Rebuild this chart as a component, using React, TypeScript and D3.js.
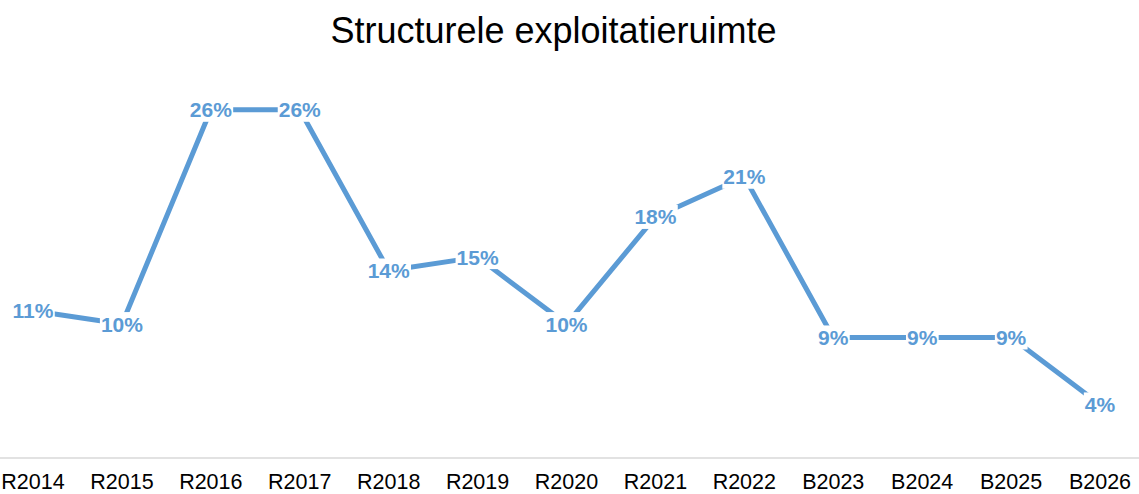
import React, { useEffect, useRef } from "react";
import * as d3 from "d3";

const categories = ["R2014", "R2015", "R2016", "R2017", "R2018", "R2019", "R2020", "R2021", "R2022", "B2023", "B2024", "B2025", "B2026"];
const values = [11, 10, 26, 26, 14, 15, 10, 18, 21, 9, 9, 9, 4];
const title = "Structurele exploitatieruimte";

const W = 1139;
const H = 494;
const BLUE = "#5B9BD5";
const FONT = "'Liberation Sans', Arial, sans-serif";

export default function App() {
  const ref = useRef<SVGSVGElement>(null);
  useEffect(() => {
    const svg = d3.select(ref.current);
    svg.selectAll("*").remove();
    const x = d3.scalePoint<string>().domain(categories).range([33, 1100]);
    const y = d3.scaleLinear().domain([0, 28]).range([458, 83]);

    svg.append("rect").attr("width", W).attr("height", H).attr("fill", "#fff");

    svg.append("text")
      .attr("x", 553.5).attr("y", 43)
      .attr("text-anchor", "middle")
      .attr("font-family", FONT).attr("font-size", 36)
      .attr("fill", "#000")
      .text(title);

    svg.append("line")
      .attr("x1", 0).attr("x2", W)
      .attr("y1", y(0)).attr("y2", y(0))
      .attr("stroke", "#d9d9d9").attr("stroke-width", 1.5);

    svg.append("g").selectAll("text").data(categories).join("text")
      .attr("x", (d) => x(d)!).attr("y", 489)
      .attr("text-anchor", "middle")
      .attr("font-family", FONT).attr("font-size", 21.5)
      .attr("fill", "#000")
      .text((d) => d);

    const line = d3.line<number>().x((_, i) => x(categories[i])!).y((d) => y(d));
    svg.append("path")
      .attr("d", line(values)!)
      .attr("fill", "none")
      .attr("stroke", BLUE).attr("stroke-width", 5)
      .attr("stroke-linejoin", "round");

    const lg = svg.append("g");
    values.forEach((v, i) => {
      const g = lg.append("g");
      const rect = g.append("rect").attr("fill", "#fff");
      const t = g.append("text")
        .attr("x", x(categories[i])!).attr("y", y(v) + 7.5)
        .attr("text-anchor", "middle")
        .attr("font-family", FONT).attr("font-size", 21).attr("font-weight", "bold")
        .attr("fill", BLUE)
        .text(`${v}%`);
      const bb = (t.node() as SVGTextElement).getBBox();
      rect.attr("x", bb.x - 1).attr("y", y(v) - 12).attr("width", bb.width + 2).attr("height", 24);
    });
  }, []);
  return (
    <div style={{ position: "fixed", left: 0, top: 0, width: W, height: H, overflow: "hidden", background: "#fff" }}>
      <svg ref={ref} width={W} height={H} style={{ display: "block" }} />
    </div>
  );
}
